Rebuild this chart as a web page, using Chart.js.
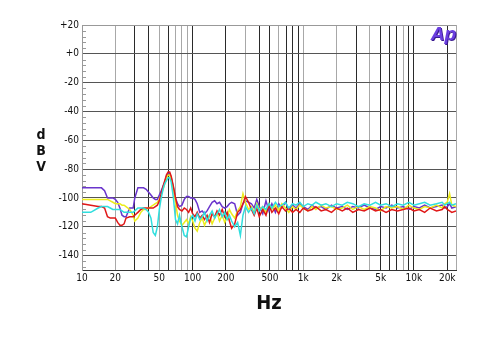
<!DOCTYPE html>
<html>
<head>
<meta charset="utf-8">
<script src="https://cdn.jsdelivr.net/npm/chart.js@4.4.0/dist/chart.umd.min.js"></script>
<style>
  html, body { margin: 0; padding: 0; background: #fff; }
</style>
</head>
<body>
<canvas id="apChart" width="500" height="354"></canvas>
<script>
// frequency points (Hz), shared by all four traces
var freqs = [10,12,14,15,16,17,18,19,20,21,
  22,23,24,25,27,29,30,32,34,36,
  38,40,42,44,46,48,50,52,54,56,
  58,60,62,64,67,70,73,76,80,84,
  88,92,96,100,105,110,116,122,128,135,
  142,150,158,166,175,185,195,205,215,225,
  240,255,270,285,300,320,340,360,380,400,
  430,460,490,520,560,600,640,690,740,800,
  860,930,1000,1100,1200,1300,1450,1600,1800,2000,
  2250,2500,2800,3150,3550,4000,4500,5000,5600,6300,
  7100,8000,9000,10000,11200,12500,14000,16000,18000,19000,
  20000,21000,22000,24000];

// levels in dBV
var purpleTrace = [-93,-93,-93,-93,-95,-100,-100,-100,-101,-103,
  -107,-112,-113,-113,-107,-107,-100,-93,-93,-93,
  -94,-96,-98,-100,-101,-101,-98,-95,-92,-89,
  -85,-83,-83,-86,-93,-100,-104,-106,-105,-101,
  -99,-99,-100,-100,-101,-104,-110,-109,-111,-109,
  -106,-103,-102,-104,-103,-106,-107,-106,-104,-103,
  -104,-112,-110,-104,-102,-103,-104,-107,-101,-106,
  -111,-102,-109,-104,-110,-104,-107,-103,-108,-105,
  -107,-104,-106,-108,-105,-107,-106,-108,-105,-107,
  -106,-108,-106,-107,-105,-107,-108,-106,-107,-105,
  -107,-106,-108,-106,-107,-105,-107,-106,-105,-107,
  -106,-104,-107,-106];

var redTrace = [-104,-105,-106,-106,-107,-113,-114,-114,-114,-117,
  -119,-119,-118,-114,-113,-113,-112,-110,-108,-107,
  -107,-107,-107,-107,-106,-105,-102,-97,-92,-88,
  -84,-82,-82,-85,-92,-100,-106,-108,-109,-107,
  -108,-110,-107,-111,-113,-110,-114,-112,-115,-112,
  -117,-111,-113,-109,-112,-108,-113,-110,-116,-121,
  -118,-110,-108,-104,-99,-103,-108,-112,-107,-113,
  -108,-112,-105,-110,-107,-111,-106,-109,-107,-110,
  -108,-110,-107,-109,-108,-106,-109,-108,-110,-107,
  -109,-107,-110,-108,-109,-107,-109,-108,-110,-108,
  -109,-108,-107,-109,-108,-110,-107,-109,-108,-106,
  -108,-109,-110,-109];

var yellowTrace = [-101,-101,-101,-101,-101,-101,-102,-103,-104,-104,
  -104,-105,-105,-106,-108,-112,-116,-114,-110,-108,
  -108,-107,-106,-105,-104,-103,-101,-98,-94,-90,
  -86,-84,-84,-87,-94,-103,-112,-116,-119,-117,
  -115,-118,-113,-116,-121,-123,-117,-114,-119,-115,
  -112,-118,-114,-110,-116,-112,-117,-113,-108,-111,
  -114,-109,-106,-97,-103,-108,-106,-110,-104,-108,
  -106,-110,-104,-108,-105,-109,-104,-107,-110,-106,
  -108,-105,-107,-109,-106,-108,-105,-107,-106,-108,
  -107,-105,-108,-106,-108,-106,-107,-109,-106,-107,
  -106,-108,-105,-107,-108,-106,-107,-105,-107,-104,
  -103,-97,-105,-106];

var cyanTrace = [-110,-110,-107,-106,-106,-106,-107,-108,-108,-108,
  -108,-109,-110,-110,-110,-110,-109,-107,-107,-107,
  -108,-110,-114,-124,-126,-120,-108,-100,-94,-90,
  -88,-86,-86,-89,-100,-115,-118,-112,-120,-126,
  -127,-120,-114,-112,-116,-111,-115,-113,-110,-116,
  -112,-109,-114,-111,-108,-113,-110,-115,-112,-116,
  -120,-117,-126,-112,-106,-110,-107,-111,-105,-109,
  -106,-108,-104,-107,-103,-106,-105,-103,-107,-104,
  -105,-103,-106,-104,-105,-103,-105,-104,-106,-104,
  -105,-103,-104,-106,-104,-105,-103,-105,-104,-106,
  -104,-105,-103,-105,-104,-103,-105,-104,-103,-105,
  -104,-103,-105,-104];

// axes
var gridFreqs = [10,20,30,40,50,60,70,80,90,100,200,300,400,500,600,700,800,900,
  1000,2000,3000,4000,5000,6000,7000,8000,9000,10000,20000,24000];
var darkFreqs = [30,40,60,100,200,400,500,700,800,900,3000,5000,6000,7000,9000,10000,20000];
var freqLabels = {10:'10',20:'20',50:'50',100:'100',200:'200',500:'500',
  1000:'1k',2000:'2k',5000:'5k',10000:'10k',20000:'20k'};
var levelTicks = [20,0,-20,-40,-60,-80,-100,-120,-140];

var narrow = '"Liberation Sans Narrow", "DejaVu Sans Condensed", sans-serif';

function toPoints(values) {
  return freqs.map(function (f, i) { return { x: f, y: values[i] }; });
}

var apDecor = {
  id: 'apDecor',
  beforeDatasetsDraw: function (chart) {
    var ctx = chart.ctx, y = chart.scales.y, left = chart.chartArea.left;
    ctx.save();
    ctx.strokeStyle = '#999';
    ctx.lineWidth = 1;
    for (var v = 16; v > y.min; v -= 4) {
      if (v % 20 === 0) continue;
      var py = Math.round(y.getPixelForValue(v)) + 0.5;
      ctx.beginPath();
      ctx.moveTo(left, py);
      ctx.lineTo(left + 4, py);
      ctx.stroke();
    }
    ctx.restore();
  },
  afterDraw: function (chart) {
    var ctx = chart.ctx, area = chart.chartArea;
    ctx.save();
    ctx.fillStyle = '#111';
    ctx.textAlign = 'center';
    ctx.textBaseline = 'middle';
    ctx.font = 'bold 14px ' + narrow;
    ctx.fillText('d', 41, 135);
    ctx.fillText('B', 41, 151);
    ctx.fillText('V', 41, 167);
    ctx.font = 'bold 20px ' + narrow;
    ctx.fillText('Hz', (area.left + area.right) / 2, 304);
    // Ap logo
    ctx.textAlign = 'right';
    ctx.textBaseline = 'alphabetic';
    ctx.font = 'italic bold 19px "Liberation Sans", sans-serif';
    ctx.fillStyle = '#3a1a90';
    ctx.fillText('Ap', area.right + 1, 41);
    ctx.fillStyle = '#6b3fe0';
    ctx.fillText('Ap', area.right, 40);
    ctx.restore();
  }
};

new Chart(document.getElementById('apChart'), {
  type: 'line',
  data: {
    datasets: [
      { label: 'Ch 1', data: toPoints(purpleTrace), borderColor: '#6a35cc', order: 3 },
      { label: 'Ch 2', data: toPoints(redTrace), borderColor: '#e01818', order: 1 },
      { label: 'Ch 3', data: toPoints(yellowTrace), borderColor: '#ecec1c', order: 2 },
      { label: 'Ch 4', data: toPoints(cyanTrace), borderColor: '#30dede', order: 0 }
    ]
  },
  options: {
    responsive: false,
    animation: false,
    layout: { padding: { left: 0, right: 44, top: 25, bottom: 0 } },
    elements: {
      line: { borderWidth: 1.5, tension: 0, fill: false },
      point: { radius: 0 }
    },
    plugins: { legend: { display: false }, tooltip: { enabled: false } },
    scales: {
      x: {
        type: 'logarithmic',
        min: 10,
        max: 24000,
        afterBuildTicks: function (scale) {
          scale.ticks = gridFreqs.map(function (f) { return { value: f }; });
        },
        afterFit: function (scale) { scale.height = 84; },
        ticks: {
          autoSkip: false,
          maxRotation: 0,
          padding: 2,
          color: '#111',
          font: { family: narrow, size: 10 },
          callback: function (v) { return freqLabels[v] || ''; }
        },
        grid: {
          drawTicks: false,
          color: function (c) {
            if (!c.tick) return '#888';
            return darkFreqs.indexOf(c.tick.value) >= 0 ? '#2a2a2a' : '#a8a8a8';
          },
          lineWidth: 1
        },
        border: { display: true, color: '#333', width: 1 }
      },
      y: {
        type: 'linear',
        min: -150,
        max: 20,
        afterBuildTicks: function (scale) {
          scale.ticks = levelTicks.map(function (v) { return { value: v }; });
        },
        afterFit: function (scale) { scale.width = 82; },
        ticks: {
          padding: 3,
          color: '#111',
          font: { family: narrow, size: 10 },
          callback: function (v) { return v >= 0 ? '+' + v : String(v); }
        },
        grid: {
          drawTicks: false,
          color: function (c) { return c.tick && c.tick.value === 20 ? '#999' : '#555'; },
          lineWidth: 1
        },
        border: { display: true, color: '#999', width: 1 }
      }
    }
  },
  plugins: [apDecor]
});
</script>
</body>
</html>
